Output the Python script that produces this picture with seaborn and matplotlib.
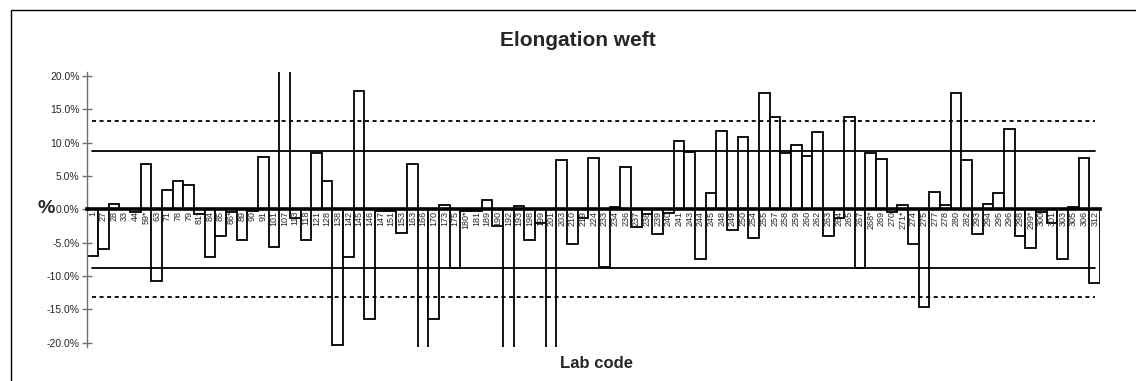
import matplotlib
matplotlib.use("Agg")
import matplotlib.pyplot as plt
import seaborn as sns
import pandas as pd
from matplotlib.patches import Rectangle

lab_codes = ["1", "27", "28", "33", "44", "59*", "63", "71", "78", "79",
             "81*", "84", "85", "86*", "89", "90", "91", "101", "107", "113",
             "118", "121", "128", "138", "142", "145", "146", "147", "151", "153",
             "163", "166", "170", "173", "175", "180*", "181", "189", "190", "192",
             "193", "198", "199", "201", "203", "210", "219", "224", "233", "234",
             "236", "237", "238", "239", "240", "241", "243", "244", "245", "248",
             "249", "250", "254", "255", "257", "258", "259", "260", "262", "263",
             "264", "265", "267", "268*", "269", "270", "271*", "274", "275", "277",
             "278", "280", "282", "293", "294", "295", "296", "298", "299*", "300",
             "301", "303", "305", "306", "312"]

deviation_pct = [-7.0, -5.9, 0.75, 0.0, -0.4, 6.8, -10.75, 2.85, 4.25, 3.6,
                 -0.65, -7.15, -3.95, -0.4, -4.6, -0.3, 7.9, -5.7, 30.0, -1.35,
                 -4.6, 8.5, 4.3, -20.35, -7.15, 17.8, -16.4, -0.3, -0.25, -3.5,
                 6.8, -30.0, -16.4, 0.7, -8.85, -0.3, -0.3, 1.45, -2.5, -30.0,
                 0.45, -4.6, -2.1, -30.0, 7.35, -5.25, -1.35, 7.65, -8.6, 0.3,
                 6.4, -2.7, -0.75, -3.75, -0.5, 10.3, 8.6, -7.5, 2.5, 11.75,
                 -3.1, 10.85, -4.35, 17.45, 13.85, 8.4, 9.65, 7.95, 11.55, -3.95,
                 -1.35, 13.85, -8.85, 8.5, 7.55, -0.4, 0.7, -5.25, -14.6, 2.6,
                 0.7, 17.45, 7.45, -3.7, 0.8, 2.5, 12.1, -3.95, -5.75, -0.4,
                 -2.0, -7.5, 0.4, 7.7, -11.1]

limit_inner = 8.8
limit_outer = 13.2
y_ticks = [-20, -15, -10, -5, 0, 5, 10, 15, 20]

df = pd.DataFrame({"lab": lab_codes, "dev": deviation_pct})

sns.set_style("white")
plt.rcParams["font.family"] = ["Liberation Sans", "DejaVu Sans"]

fig = plt.figure(figsize=(11.36, 3.81), dpi=100)
ax = fig.add_axes([87.3 / 1136, 1 - 346.7 / 381, (1100 - 87.3) / 1136, (346.7 - 72) / 381])

sns.barplot(data=df, x="lab", y="dev", order=lab_codes, color="white",
            edgecolor="black", linewidth=1.3, width=1.0, saturation=1,
            ax=ax, zorder=1)
ax.set_axisbelow(False)

ax.set_xlim(-0.5, len(lab_codes) - 0.5)
ax.set_ylim(-20.6, 20.6)

# reference lines
for v in (limit_inner, -limit_inner):
    ax.axhline(v, xmin=0.005, xmax=0.995, color="black", lw=1.3, zorder=3)
for v in (limit_outer, -limit_outer):
    ax.axhline(v, xmin=0.005, xmax=0.995, color="black", lw=1.3,
               linestyle=(0, (2.2, 2.0)), zorder=3)

# spines
ax.spines["top"].set_visible(False)
ax.spines["right"].set_visible(False)
ax.spines["left"].set_color("#707070")
ax.spines["left"].set_linewidth(1.0)
ax.spines["bottom"].set_position(("data", 0))
ax.spines["bottom"].set_linewidth(2.6)
ax.spines["bottom"].set_color("black")
ax.spines["bottom"].set_zorder(4)

ax.set_yticks(y_ticks)
ax.set_yticklabels([f"{t:.1f}%" for t in y_ticks], fontsize=7.5)
ax.tick_params(axis="y", direction="inout", length=7, width=1.0, color="#707070", pad=2, left=True)
ax.tick_params(axis="x", length=0, pad=1, labelsize=6.5, labelrotation=90, bottom=True)
ax.set_xlabel("")
ax.set_ylabel("")

fig.text(578 / 1136, 1 - 41 / 381, "Elongation weft", ha="center", va="center",
         fontsize=15, fontweight="bold")
fig.text(596 / 1136, 1 - 364 / 381, "Lab code", ha="center", va="center",
         fontsize=12, fontweight="bold")
fig.text(55 / 1136, 1 - 209 / 381, "%", ha="right", va="center",
         fontsize=14, fontweight="bold")

fig.patches.append(Rectangle((11 / 1136, -0.2), 1.2, 0.2 + 1 - 10 / 381,
                             transform=fig.transFigure, fill=False,
                             edgecolor="black", lw=1.0))

fig.savefig("out.png", dpi=100)
